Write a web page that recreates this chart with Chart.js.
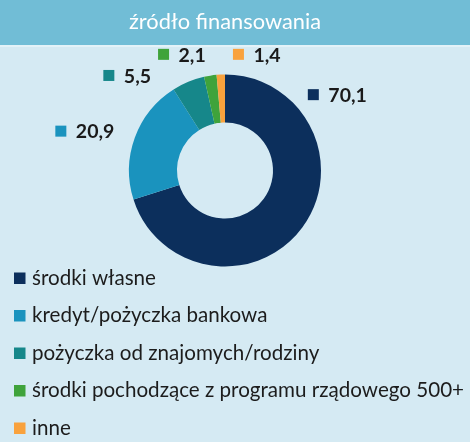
<!DOCTYPE html>
<html>
<head>
<meta charset="utf-8">
<script src="https://cdn.jsdelivr.net/npm/chart.js@4"></script>
<style>
  html, body { margin: 0; padding: 0; background: #D5EAF3; }
  #wrap { width: 470px; height: 442px; position: relative; }
</style>
</head>
<body>
<div id="wrap"><canvas id="c" width="470" height="442"></canvas></div>
<script>
const chartTitle = 'źródło finansowania';
const categories = [
  'środki własne',
  'kredyt/pożyczka bankowa',
  'pożyczka od znajomych/rodziny',
  'środki pochodzące z programu rządowego 500+',
  'inne'
];
const values = [70.1, 20.9, 5.5, 2.1, 1.4];
const valueLabels = ['70,1', '20,9', '5,5', '2,1', '1,4'];
const colors = ['#0C2F5C', '#1A93BE', '#16878A', '#3FA33B', '#F9A23D'];

const FONT = 'Lato, "Open Sans", sans-serif';

const bgPlugin = {
  id: 'bgPlugin',
  beforeDraw(chart) {
    const ctx = chart.ctx;
    ctx.save();
    ctx.fillStyle = '#D5EAF3';
    ctx.fillRect(0, 0, chart.width, chart.height);
    ctx.fillStyle = '#71BDD6';
    ctx.fillRect(0, 0, chart.width, 45);
    ctx.fillStyle = '#E3F2F8';
    ctx.fillRect(0, 45, chart.width, 2);
    ctx.restore();
  }
};

const labelPlugin = {
  id: 'sliceLabels',
  afterDatasetsDraw(chart, args, opts) {
    const ctx = chart.ctx;
    const meta = chart.getDatasetMeta(0);
    ctx.save();
    meta.data.forEach((arc, i) => {
      const r = arc.outerRadius;
      const off = opts.offsets[i];
      const sx = arc.x + off[0] * r;
      const sy = arc.y + off[1] * r;
      ctx.fillStyle = colors[i];
      ctx.fillRect(sx - 5.5, sy - 5.5, 11, 11);
      ctx.fillStyle = '#1A1A1A';
      ctx.font = 'bold 19.5px ' + FONT;
      ctx.textAlign = 'left';
      ctx.textBaseline = 'middle';
      ctx.fillText(valueLabels[i], sx + 15, sy + 1);
    });
    ctx.restore();
  }
};

const legendPlugin = {
  id: 'listLegend',
  afterDraw(chart, args, opts) {
    const ctx = chart.ctx;
    ctx.save();
    ctx.font = opts.fontSize + 'px ' + FONT;
    ctx.textBaseline = 'middle';
    ctx.textAlign = 'left';
    categories.forEach((cat, i) => {
      const y = opts.top + i * opts.step;
      ctx.fillStyle = colors[i];
      ctx.fillRect(opts.left, y - 5.5, 11.5, 11.5);
      ctx.fillStyle = '#1C1C1C';
      ctx.fillText(cat, opts.left + 18, y);
    });
    ctx.restore();
  }
};

new Chart(document.getElementById('c'), {
  type: 'doughnut',
  data: {
    labels: categories,
    datasets: [{
      data: values,
      backgroundColor: colors,
      borderWidth: 0
    }]
  },
  options: {
    responsive: false,
    animation: false,
    cutout: '50%',
    layout: { padding: { left: 129, right: 149, top: 0, bottom: 175.5 } },
    plugins: {
      legend: { display: false },
      tooltip: { enabled: false },
      title: {
        display: true,
        text: chartTitle,
        color: '#FFFFFF',
        font: { family: FONT, size: 22, weight: 'normal', lineHeight: 1.2 },
        padding: { top: 9, bottom: 39.1 }
      },
      sliceLabels: {
        offsets: [[0.92, -0.79], [-1.71, -0.41], [-1.21, -0.99], [-0.64, -1.21], [0.14, -1.21]]
      },
      listLegend: { left: 14, top: 278, step: 37.5, fontSize: 20.6 }
    }
  },
  plugins: [bgPlugin, labelPlugin, legendPlugin]
});
</script>
</body>
</html>
